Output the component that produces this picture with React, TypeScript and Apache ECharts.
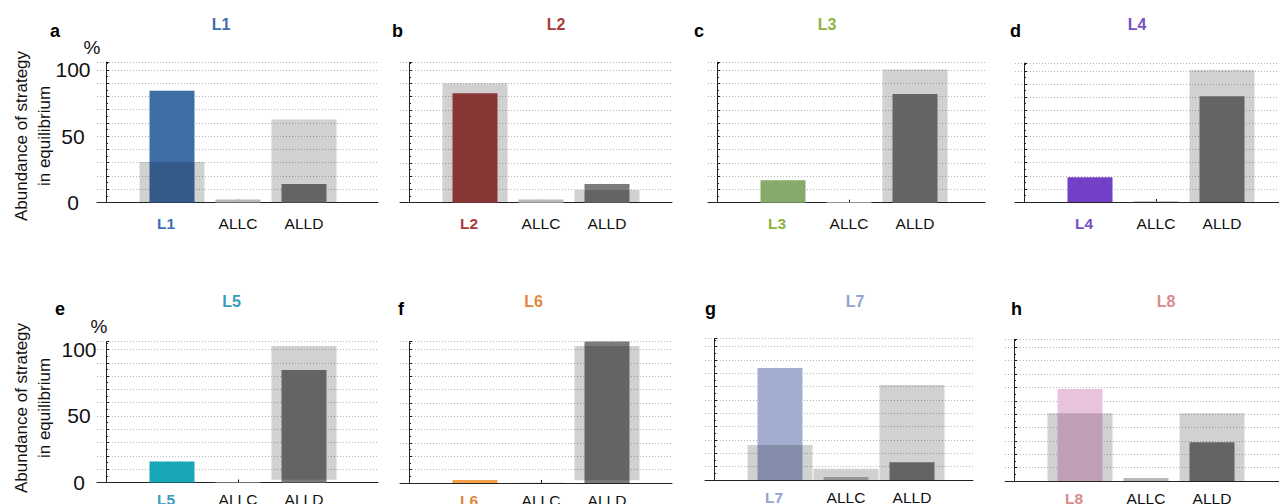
import React, { useEffect, useRef } from "react";
import * as echarts from "echarts";

// ---- data (percent abundance) ----
const strategies = ["L1", "L2", "L3", "L4", "L5", "L6", "L7", "L8"];
const panelLetters = ["a", "b", "c", "d", "e", "f", "g", "h"];
const otherStrategies = ["ALLC", "ALLD"];
// narrow (coloured / gray) bars
const focalAbundance = [84.3, 82.6, 16.9, 18.8, 15.7, 2.2, 84, 68.8];
const allcAbundance = [2.3, 2.5, 0.5, 0.5, 0.3, 0.2, 2.3, 2.2];
const alldAbundance = [13.9, 14.1, 82, 80.7, 84.5, 106, 13.3, 28.9];
// wide translucent reference bars
const focalReference = [30.5, 90.2, 0, 0, 0, 0, 26.3, 50.6];
const allcReference = [0, 0, 0, 0, 0, 0, 8.5, 0];
const alldReference = [62.6, 9.6, 100.4, 101, 102.7, 102.7, 71.3, 50.6];
const alldReferenceLow = [0, 0, 0, 0, 2, 2, 0, 0];
const yTickLabels = [0, 50, 100];

// ---- styles ----
const barColors = ["#3f6ea6", "#a84242", "#87a96b", "#7340c8", "#17a7b6", "#f7a24a", "#a2add0", "#e8c3de"];
const labelColors = ["#3d6fb0", "#a83c3c", "#8db33c", "#7a50c2", "#3a9bbf", "#e0883c", "#8fa5d0", "#d88c8c"];
const ALLC_COLOR = "#b8b8b8";
const ALLD_COLOR = "#7b7b7b";
const OVERLAY = "rgba(0,0,0,0.18)";
const FONT = "Liberation Sans, Arial, Helvetica, sans-serif";
const Y_MAX = 106;
const UNIT = 66; // px per category
const FIRST = 75; // px from y axis to first category
const WIDE = 65;
const NARROW = 45;

const layout = [
  { left: 97, right: 378, top: 62, height: 140.5 },
  { left: 400, right: 672, top: 62.2, height: 140.5 },
  { left: 708, right: 985, top: 62.2, height: 140.5 },
  { left: 1015, right: 1279, top: 63.1, height: 138.9 },
  { left: 97, right: 378, top: 341.5, height: 141 },
  { left: 400, right: 672, top: 341.5, height: 141.5 },
  { left: 705, right: 973, top: 338.7, height: 141.3 },
  { left: 1005, right: 1279, top: 339.3, height: 141.7 },
];
const titleX = [221, 556, 827, 1137, 231.5, 533.5, 855, 1166];
const letterX = [50, 392, 694, 1010, 55, 398, 705, 1011];
const rowTitleY = [24, 301];
const rowLetterY = [31, 309];
const rowLabelMargin = [13, 9];

function txt(x: number, y: number, text: string, size: number, color: string, bold: boolean, align = "center", extra: any = {}) {
  return {
    type: "text",
    x,
    y,
    ...extra,
    style: {
      text,
      fill: color,
      fontSize: size,
      fontWeight: bold ? "bold" : "normal",
      fontFamily: FONT,
      align,
      verticalAlign: "middle",
      ...(extra.style || {}),
    },
  };
}

function buildOption() {
  const grid: any[] = [];
  const xAxis: any[] = [];
  const yAxis: any[] = [];
  const series: any[] = [];
  const graphic: any[] = [];

  strategies.forEach((name, i) => {
    const L = layout[i];
    const width = L.right - L.left;
    const xMin = 1 - FIRST / UNIT;
    const xMax = xMin + width / UNIT;
    const row = i < 4 ? 0 : 1;
    const showY = i === 0 || i === 4;
    const cats = [name, ...otherStrategies];

    grid.push({ left: L.left, top: L.top, width, height: L.height, outerBoundsMode: "none" });
    xAxis.push({
      type: "value",
      gridIndex: i,
      min: xMin,
      max: xMax,
      splitLine: { show: false },
      axisLine: { show: true, onZero: false, lineStyle: { color: "#222", width: 1 } },
      axisTick: { show: true, inside: true, length: 3, customValues: [1, 2, 3], lineStyle: { color: "#111" } },
      axisLabel: {
        show: true,
        customValues: [1, 2, 3],
        margin: rowLabelMargin[row],
        fontSize: 15.5,
        fontFamily: FONT,
        color: "#111",
        formatter: (v: number) => {
          const idx = Math.round(v) - 1;
          return idx === 0 ? `{f|${cats[0]}}` : `{o|${cats[idx]}}`;
        },
        rich: {
          f: { color: labelColors[i], fontWeight: "bold", fontSize: 15.5, fontFamily: FONT, padding: [0, 12, 0, 0] },
          o: { color: "#111", fontSize: 15.5, fontFamily: FONT },
        },
      },
    });
    yAxis.push({
      type: "value",
      gridIndex: i,
      min: 0,
      max: Y_MAX,
      interval: 10,
      axisLine: { show: true, lineStyle: { color: "#222", width: 1 } },
      axisTick: { show: true, inside: true, length: 3, lineStyle: { color: "#222" } },
      minorTick: { show: true, splitNumber: 2, length: 2, lineStyle: { color: "#222" } },
      splitLine: { show: true, lineStyle: { color: "#b5b5b5", type: [1, 2], width: 1 } },
      axisLabel: {
        show: showY,
        align: "center",
        margin: row === 0 ? 24 : 18,
        fontSize: 21,
        color: "#111",
        fontFamily: FONT,
        formatter: (v: number) => (yTickLabels.indexOf(v) >= 0 ? String(v) : ""),
      },
    });

    const narrowData = [
      [1, 0, focalAbundance[i]],
      [2, 0, allcAbundance[i]],
      [3, 0, alldAbundance[i]],
    ];
    const narrowColors = [barColors[i], ALLC_COLOR, ALLD_COLOR];
    const wideData = [
      [1, 0, focalReference[i]],
      [2, 0, allcReference[i]],
      [3, alldReferenceLow[i], alldReference[i]],
    ];
    const makeRender = (w: number, colorOf: (k: number) => string) => (params: any, api: any) => {
      const x = api.value(0);
      const lo = api.value(1);
      const hi = api.value(2);
      if (!(hi > lo)) return null;
      const p0 = api.coord([x, lo]);
      const p1 = api.coord([x, hi]);
      return {
        type: "rect",
        shape: { x: p0[0] - w / 2, y: p1[1], width: w, height: p0[1] - p1[1] },
        style: { fill: colorOf(params.dataIndex) },
      };
    };
    series.push({
      type: "custom",
      name: name + " abundance",
      xAxisIndex: i,
      yAxisIndex: i,
      data: narrowData,
      encode: { x: 0, y: [1, 2] },
      renderItem: makeRender(NARROW, (k) => narrowColors[k]),
      silent: true,
    });
    series.push({
      type: "custom",
      name: name + " reference",
      xAxisIndex: i,
      yAxisIndex: i,
      data: wideData,
      encode: { x: 0, y: [1, 2] },
      renderItem: makeRender(WIDE, () => OVERLAY),
      silent: true,
    });

    graphic.push(txt(titleX[i], rowTitleY[row], name, 16, labelColors[i], true));
    graphic.push(txt(letterX[i], rowLetterY[row], panelLetters[i], 18, "#000", true, "left"));
  });

  // y-axis titles and units
  [136, 408].forEach((cy) => {
    graphic.push(
      txt(32.5, cy, "Abundance of strategy\nin equilibrium", 17, "#111", false, "center", {
        rotation: Math.PI / 2,
        style: { lineHeight: 23 },
      })
    );
  });
  graphic.push(txt(92, 47, "%", 19, "#111", false));
  graphic.push(txt(99, 326, "%", 19, "#111", false));

  return {
    animation: false,
    backgroundColor: "#fff",
    textStyle: { fontFamily: FONT },
    grid,
    xAxis,
    yAxis,
    series,
    graphic,
  };
}

export default function App() {
  const ref = useRef<HTMLDivElement>(null);
  useEffect(() => {
    if (!ref.current) return;
    const chart = echarts.init(ref.current, undefined, { renderer: "svg" });
    chart.setOption(buildOption() as any);
    return () => chart.dispose();
  }, []);
  return <div ref={ref} style={{ position: "absolute", left: 0, top: 0, width: 1279, height: 504 }} />;
}
